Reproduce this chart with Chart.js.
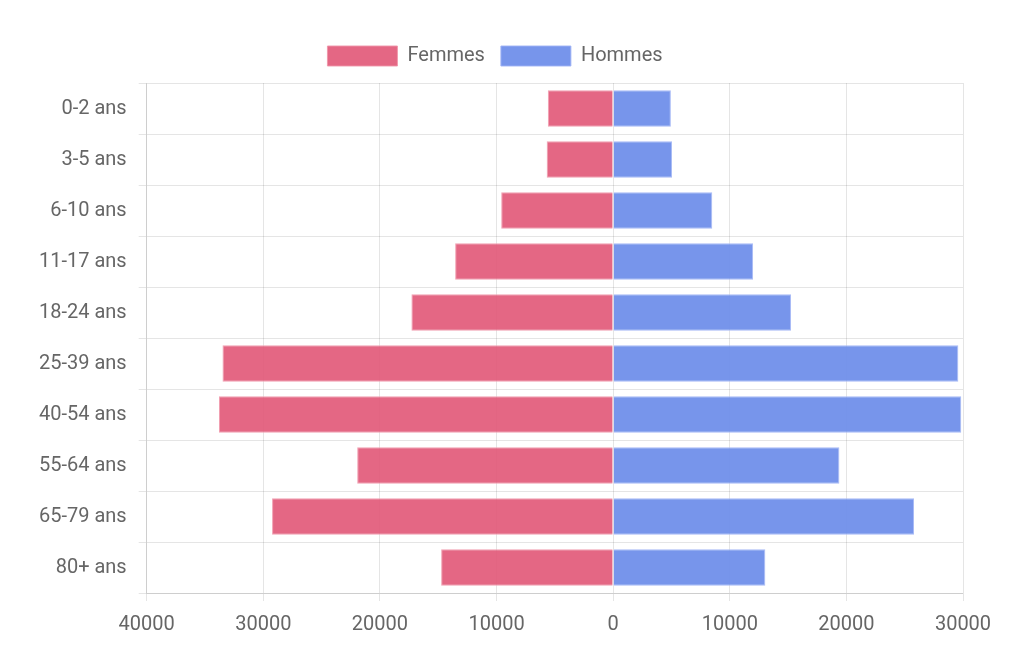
<!DOCTYPE html>
<html>
<head>
<meta charset="utf-8">
<script src="https://cdn.jsdelivr.net/npm/chart.js@4/dist/chart.umd.min.js"></script>
<style>
  html, body { margin: 0; padding: 0; background: #fff; }
  #wrap { width: 1024px; height: 671px; }
</style>
</head>
<body>
<div id="wrap"><canvas id="pyramid" width="1024" height="671"></canvas></div>
<script>
const ageGroups = ['0-2 ans', '3-5 ans', '6-10 ans', '11-17 ans', '18-24 ans', '25-39 ans', '40-54 ans', '55-64 ans', '65-79 ans', '80+ ans'];
const femmes = [5600, 5700, 9600, 13550, 17300, 33500, 33800, 21950, 29250, 14750];
const hommes = [4950, 5050, 8500, 12000, 15250, 29600, 29850, 19400, 25800, 13050];
const xMin = -40000;
const xMax = 30000;

const labelFont = { family: "Roboto, 'Liberation Sans', sans-serif", size: 20 };

// a little extra room between legend and plot
const legendGap = {
  id: 'legendGap',
  beforeInit(chart) {
    const fit = chart.legend.fit;
    chart.legend.fit = function() {
      fit.bind(chart.legend)();
      this.height += 7;
    };
  },
};

new Chart(document.getElementById('pyramid').getContext('2d'), {
  type: 'bar',
  data: {
    labels: ageGroups,
    datasets: [
      {
        label: 'Femmes',
        data: femmes.map(v => -v),
        backgroundColor: 'rgba(226, 90, 122, 0.92)',
        borderColor: 'rgba(240, 150, 170, 0.9)',
        borderWidth: 1,
      },
      {
        label: 'Hommes',
        data: hommes,
        backgroundColor: 'rgba(112, 143, 234, 0.95)',
        borderColor: 'rgba(160, 180, 245, 0.9)',
        borderWidth: 1,
      },
    ],
  },
  plugins: [legendGap],
  options: {
    indexAxis: 'y',
    responsive: false,
    animation: false,
    layout: { padding: { left: 27, right: 61, top: 30, bottom: 22 } },
    plugins: {
      legend: {
        labels: {
          color: '#666',
          font: labelFont,
          boxWidth: 70,
          boxHeight: 20,
          padding: 16,
        },
      },
      tooltip: { enabled: false },
    },
    scales: {
      x: {
        stacked: true,
        min: xMin,
        max: xMax,
        ticks: {
          stepSize: 10000,
          color: '#666',
          font: labelFont,
          maxRotation: 0,
          padding: 12,
          callback: v => Math.abs(v),
        },
        grid: { color: 'rgba(0, 0, 0, 0.1)' },
      },
      y: {
        stacked: true,
        ticks: { color: '#666', font: labelFont, padding: 12 },
        grid: { color: 'rgba(0, 0, 0, 0.1)' },
      },
    },
  },
});
</script>
</body>
</html>
